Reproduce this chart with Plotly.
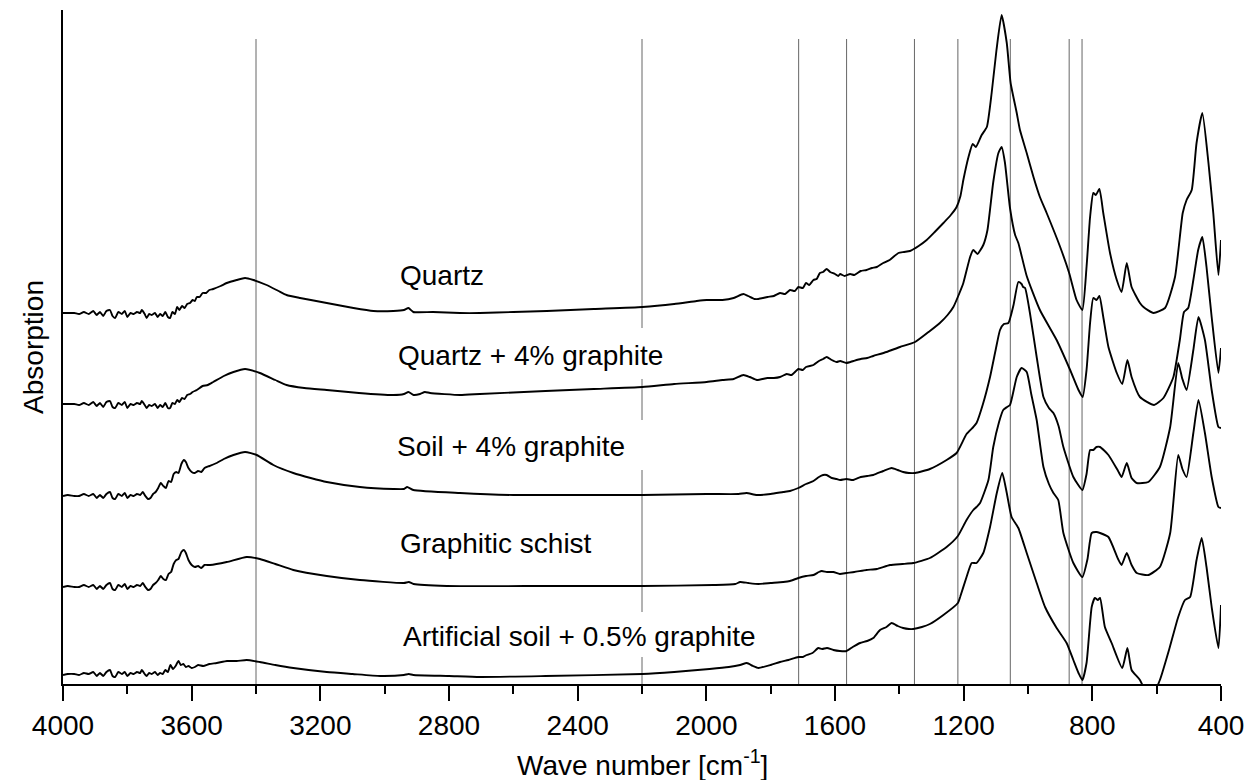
import plotly.graph_objects as go

# ---------------- data ----------------
# each series: [wave number cm-1, absorption (arbitrary, stacked)]
quartz = [(4000,3.71),(3990,3.71),(3965,3.71),(3950,3.70),(3935,3.72),(3920,3.70),(3906,3.73),(3895,3.69),(3885,3.72),
          (3875,3.68),(3865,3.73),(3854,3.74),(3846,3.68),(3838,3.66),(3828,3.72),(3817,3.70),(3808,3.73),(3800,3.67),
          (3790,3.71),(3780,3.70),(3770,3.72),(3760,3.71),(3755,3.74),(3746,3.70),(3740,3.66),(3732,3.70),(3724,3.69),
          (3714,3.71),(3706,3.67),(3698,3.70),(3690,3.68),(3682,3.72),(3674,3.67),(3667,3.66),(3660,3.72),(3652,3.70),
          (3645,3.77),(3638,3.74),(3630,3.78),(3622,3.76),(3614,3.80),(3605,3.81),(3597,3.84),(3590,3.83),(3584,3.87),
          (3575,3.87),(3566,3.91),(3555,3.91),(3545,3.94),(3533,3.95),(3510,3.98),(3491,4.01),(3460,4.04),(3434,4.06),
          (3408,4.04),(3367,3.99),(3330,3.93),(3305,3.89),(3263,3.86),(3180,3.81),(3097,3.76),(3035,3.73),(2973,3.73),
          (2940,3.74),(2926,3.76),(2911,3.72),(2850,3.72),(2766,3.71),(2704,3.71),(2600,3.72),(2496,3.73),(2350,3.75),
          (2199,3.77),(2100,3.80),(2030,3.83),(1999,3.84),(1950,3.84),(1915,3.86),(1885,3.90),(1870,3.88),(1850,3.85),
          (1838,3.85),(1810,3.87),(1790,3.88),(1771,3.91),(1755,3.90),(1740,3.94),(1725,3.93),(1714,3.97),(1700,3.96),
          (1690,4.01),(1680,3.99),(1667,4.04),(1657,4.05),(1647,4.11),(1637,4.12),(1626,4.15),(1615,4.12),(1600,4.10),
          (1590,4.08),(1584,4.10),(1570,4.08),(1553,4.10),(1540,4.09),(1520,4.13),(1502,4.14),(1485,4.16),(1470,4.17),
          (1450,4.21),(1430,4.24),(1403,4.31),(1385,4.32),(1367,4.33),(1340,4.38),(1315,4.44),(1290,4.52),(1263,4.61),
          (1240,4.69),(1222,4.77),(1210,4.88),(1201,5.04),(1185,5.27),(1172,5.40),(1162,5.37),(1144,5.49),(1128,5.57),
          (1113,5.91),(1098,6.34),(1082,6.69),(1066,6.41),(1054,6.01),(1035,5.71),(1025,5.54),(1004,5.31),(983,5.07),
          (963,4.87),(942,4.71),(900,4.37),(872,4.11),(849,3.84),(831,3.74),(818,4.17),(807,4.67),(797,4.91),
          (789,4.89),(778,4.95),(766,4.71),(745,4.31),(724,4.04),(709,3.92),(693,4.21),(678,3.97),(652,3.81),
          (641,3.77),(610,3.71),(574,3.76),(543,4.07),(519,4.71),(507,4.84),(491,4.94),(476,5.41),(458,5.71),
          (439,5.21),(424,4.71),(408,4.09),(400,4.44)]

quartz_graphite = [(4000,2.80),(3990,2.80),(3965,2.80),(3950,2.79),(3935,2.81),(3920,2.79),(3906,2.82),(3895,2.78),
          (3885,2.81),(3875,2.77),(3865,2.82),(3854,2.83),(3846,2.77),(3838,2.76),(3828,2.81),(3817,2.79),(3808,2.82),
          (3800,2.76),(3790,2.80),(3780,2.79),(3770,2.81),(3760,2.80),(3755,2.83),(3746,2.79),(3740,2.76),(3732,2.79),
          (3724,2.78),(3714,2.80),(3706,2.76),(3698,2.79),(3690,2.77),(3682,2.81),(3674,2.76),(3667,2.76),(3660,2.81),
          (3652,2.80),(3645,2.84),(3638,2.82),(3630,2.86),(3622,2.85),(3614,2.89),(3605,2.90),(3597,2.92),(3584,2.94),
          (3566,2.98),(3550,2.99),(3533,3.02),(3500,3.08),(3470,3.12),(3434,3.15),(3388,3.11),(3340,3.04),(3305,2.99),
          (3250,2.96),(3180,2.94),(3080,2.91),(2973,2.89),(2940,2.90),(2926,2.92),(2910,2.89),(2890,2.90),(2875,2.92),
          (2859,2.91),(2766,2.89),(2704,2.90),(2500,2.93),(2350,2.95),(2199,2.97),(2100,3.00),(1999,3.02),(1950,3.04),
          (1915,3.05),(1885,3.09),(1865,3.07),(1843,3.04),(1810,3.06),(1790,3.06),(1771,3.07),(1750,3.10),(1735,3.09),
          (1714,3.15),(1700,3.14),(1690,3.17),(1667,3.19),(1650,3.23),(1637,3.25),(1626,3.27),(1610,3.24),(1595,3.22),
          (1584,3.23),(1565,3.21),(1543,3.23),(1520,3.25),(1500,3.26),(1481,3.28),(1440,3.32),(1398,3.37),(1351,3.42),
          (1305,3.53),(1274,3.61),(1250,3.69),(1232,3.77),(1213,3.91),(1201,4.01),(1180,4.27),(1170,4.34),(1157,4.30),
          (1139,4.39),(1126,4.54),(1108,5.02),(1092,5.31),(1082,5.37),(1072,5.22),(1056,4.76),(1040,4.49),(1030,4.41),
          (1004,4.08),(963,3.74),(911,3.44),(869,3.14),(843,2.94),(830,2.87),(818,3.14),(807,3.61),(797,3.86),
          (787,3.84),(778,3.88),(766,3.67),(750,3.37),(724,3.11),(707,3.00),(691,3.24),(678,3.07),(652,2.87),
          (608,2.79),(579,2.86),(548,3.07),(528,3.44),(515,3.72),(502,3.76),(486,4.04),(471,4.34),(458,4.47),
          (445,4.17),(429,3.67),(408,3.11),(400,3.36)]

soil_graphite = [(4000,1.88),(3985,1.89),(3965,1.88),(3950,1.88),(3935,1.90),(3920,1.88),(3906,1.90),(3895,1.86),
          (3885,1.89),(3875,1.86),(3865,1.90),(3854,1.92),(3846,1.86),(3838,1.85),(3828,1.90),(3817,1.88),(3808,1.91),
          (3800,1.86),(3790,1.89),(3780,1.88),(3770,1.90),(3760,1.89),(3752,1.92),(3744,1.88),(3736,1.85),(3728,1.86),
          (3720,1.90),(3712,1.92),(3704,1.96),(3696,2.01),(3688,1.98),(3680,1.96),(3672,2.03),(3664,2.02),(3656,2.10),
          (3648,2.12),(3641,2.11),(3632,2.20),(3624,2.24),(3618,2.22),(3610,2.16),(3600,2.12),(3590,2.11),(3580,2.13),
          (3570,2.12),(3560,2.16),(3545,2.18),(3522,2.21),(3500,2.25),(3470,2.29),(3434,2.32),(3398,2.29),(3346,2.19),
          (3284,2.11),(3230,2.06),(3180,2.02),(3077,1.97),(2973,1.95),(2940,1.95),(2930,1.97),(2911,1.94),(2766,1.91),
          (2600,1.89),(2400,1.89),(2199,1.89),(1999,1.90),(1900,1.90),(1875,1.91),(1843,1.89),(1800,1.90),(1761,1.92),
          (1740,1.93),(1714,1.96),(1690,2.00),(1667,2.03),(1650,2.07),(1637,2.09),(1626,2.09),(1610,2.06),(1595,2.05),
          (1584,2.04),(1565,2.05),(1543,2.04),(1520,2.07),(1500,2.08),(1481,2.09),(1450,2.13),(1424,2.16),(1405,2.14),
          (1388,2.12),(1370,2.11),(1351,2.11),(1305,2.15),(1253,2.24),(1222,2.31),(1191,2.50),(1170,2.57),(1160,2.61),
          (1140,2.80),(1118,3.07),(1100,3.35),(1087,3.54),(1075,3.60),(1061,3.61),(1045,3.79),(1030,4.02),(1020,4.00),
          (1015,3.97),(1009,3.96),(994,3.71),(973,3.27),(952,2.87),(935,2.76),(921,2.71),(905,2.58),(890,2.37),
          (859,2.07),(831,1.94),(818,2.10),(807,2.34),(797,2.34),(787,2.37),(776,2.37),(750,2.29),(720,2.13),
          (709,2.07),(693,2.21),(678,2.06),(662,2.01),(626,2.02),(590,2.17),(558,2.57),(533,3.21),(520,3.05),
          (507,2.94),(486,3.34),(470,3.67),(450,3.44),(429,2.94),(408,2.57),(400,2.56)]

graphitic_schist = [(4000,0.97),(3985,0.98),(3965,0.97),(3950,0.97),(3935,0.99),(3920,0.97),(3906,0.99),(3895,0.95),
          (3885,0.98),(3875,0.95),(3865,0.99),(3854,1.01),(3846,0.95),(3838,0.94),(3828,0.99),(3817,0.97),(3808,1.00),
          (3800,0.95),(3790,0.98),(3780,0.97),(3770,0.99),(3760,0.98),(3752,1.01),(3744,0.97),(3736,0.94),(3728,0.95),
          (3720,0.99),(3712,1.01),(3704,1.04),(3696,1.08),(3688,1.05),(3680,1.04),(3672,1.10),(3664,1.12),(3656,1.20),
          (3648,1.24),(3641,1.25),(3632,1.32),(3624,1.34),(3618,1.31),(3610,1.24),(3600,1.19),(3590,1.17),(3580,1.18),
          (3570,1.16),(3560,1.19),(3543,1.19),(3491,1.22),(3429,1.27),(3388,1.25),(3340,1.20),(3284,1.14),(3180,1.08),
          (3077,1.04),(2940,1.01),(2925,1.02),(2910,1.00),(2807,0.98),(2496,0.98),(2199,0.98),(1978,0.99),(1910,1.00),
          (1895,1.02),(1870,1.01),(1838,1.00),(1800,1.01),(1761,1.02),(1740,1.03),(1714,1.06),(1690,1.08),(1667,1.09),
          (1650,1.12),(1641,1.13),(1625,1.12),(1605,1.12),(1585,1.10),(1564,1.11),(1540,1.12),(1502,1.14),(1470,1.15),
          (1429,1.19),(1390,1.20),(1357,1.21),(1305,1.26),(1253,1.37),(1218,1.48),(1191,1.64),(1170,1.74),(1160,1.77),
          (1149,1.81),(1123,2.04),(1108,2.37),(1090,2.62),(1077,2.74),(1065,2.77),(1056,2.79),(1035,3.07),(1020,3.16),
          (1004,3.12),(990,2.90),(973,2.64),(952,2.17),(935,2.00),(921,1.91),(906,1.84),(890,1.51),(859,1.21),
          (831,1.07),(815,1.25),(802,1.51),(787,1.52),(776,1.51),(750,1.47),(720,1.25),(709,1.19),(693,1.31),
          (678,1.19),(662,1.11),(626,1.09),(590,1.17),(558,1.51),(533,2.29),(520,2.15),(507,2.07),(486,2.51),
          (470,2.84),(450,2.51),(429,2.07),(408,1.77),(400,1.76)]

artificial_soil = [(4000,0.09),(3985,0.10),(3965,0.10),(3950,0.09),(3935,0.11),(3920,0.10),(3906,0.12),(3895,0.08),
          (3885,0.11),(3875,0.08),(3865,0.12),(3854,0.14),(3846,0.08),(3838,0.07),(3828,0.12),(3817,0.10),(3808,0.12),
          (3800,0.08),(3790,0.11),(3780,0.10),(3770,0.12),(3760,0.11),(3755,0.14),(3746,0.10),(3740,0.08),(3732,0.11),
          (3724,0.10),(3714,0.12),(3706,0.09),(3698,0.11),(3690,0.10),(3682,0.14),(3674,0.12),(3666,0.19),(3658,0.15),
          (3650,0.18),(3641,0.23),(3634,0.19),(3626,0.20),(3618,0.17),(3610,0.18),(3600,0.16),(3590,0.17),(3580,0.19),
          (3564,0.18),(3545,0.20),(3522,0.21),(3490,0.23),(3460,0.23),(3429,0.24),(3388,0.22),(3340,0.19),(3284,0.16),
          (3180,0.12),(3100,0.10),(3014,0.08),(2940,0.09),(2925,0.10),(2911,0.09),(2800,0.08),(2704,0.07),(2500,0.08),
          (2199,0.10),(2100,0.12),(1990,0.15),(1930,0.17),(1895,0.19),(1874,0.21),(1855,0.18),(1838,0.16),(1800,0.19),
          (1771,0.22),(1745,0.24),(1714,0.27),(1700,0.27),(1688,0.29),(1670,0.31),(1652,0.36),(1640,0.35),(1625,0.36),
          (1605,0.34),(1585,0.33),(1564,0.33),(1545,0.37),(1522,0.41),(1500,0.43),(1481,0.46),(1460,0.54),(1440,0.57),
          (1424,0.61),(1405,0.58),(1388,0.56),(1370,0.55),(1357,0.55),(1330,0.57),(1305,0.60),(1263,0.69),(1218,0.81),
          (1211,0.87),(1191,1.07),(1175,1.21),(1160,1.21),(1139,1.31),(1118,1.57),(1097,1.91),(1080,2.11),(1066,1.91),
          (1051,1.67),(1030,1.56),(1004,1.31),(973,1.01),(947,0.77),(911,0.56),(880,0.41),(859,0.24),(843,0.11),
          (831,0.04),(818,0.21),(802,0.77),(792,0.86),(783,0.84),(776,0.86),(761,0.57),(740,0.41),(707,0.16),
          (691,0.36),(678,0.14),(652,0.04),(620,-0.16),(590,0.04),(559,0.37),(533,0.67),(512,0.84),(496,0.87),
          (476,1.24),(460,1.46),(445,1.17),(429,0.77),(408,0.36),(400,0.79)]

series_names = ["Quartz", "Quartz + 4% graphite", "Soil + 4% graphite",
                "Graphitic schist", "Artificial soil + 0.5% graphite"]
series_data = [quartz, quartz_graphite, soil_graphite, graphitic_schist, artificial_soil]

# label anchors: wave number of text's left edge, absorption of text centre
label_wn = [2959, 2965, 2968, 2959, 2949]
label_abs = [4.09, 3.29, 2.38, 1.41, 0.48]

# reference band positions [cm-1]
band_wn = [3400, 1713, 1564, 1353, 1218, 1055, 872, 832]
band_top = 6.45
# the 2200 cm-1 line is interrupted behind the labels (absorption spans drawn)
line2200_segments = [(3.56, 6.45), (2.64, 3.05), (0.72, 2.14), (0.0, 0.27)]

x_ticks = [4000, 3600, 3200, 2800, 2400, 2000, 1600, 1200, 800, 400]

FONT = "Liberation Sans, Arial, sans-serif"

fig = go.Figure()
for name, pts in zip(series_names, series_data):
    wn = [p[0] for p in pts]
    ab = [p[1] for p in pts]
    fig.add_trace(go.Scatter(x=wn, y=ab, mode="lines", name=name,
                             line=dict(color="black", width=1.9, shape="spline", smoothing=0.5),
                             showlegend=False))

shapes = []
for w in band_wn:
    shapes.append(dict(type="line", xref="x", yref="y", x0=w, x1=w, y0=0, y1=band_top,
                       line=dict(color="#666666", width=1), layer="below"))
for y0, y1 in line2200_segments:
    shapes.append(dict(type="line", xref="x", yref="y", x0=2200, x1=2200, y0=y0, y1=y1,
                       line=dict(color="#666666", width=1), layer="below"))

annotations = []
for name, lx, ly in zip(series_names, label_wn, label_abs):
    annotations.append(dict(x=lx, y=ly, xref="x", yref="y", text=name, showarrow=False,
                            xanchor="left", yanchor="middle",
                            font=dict(family=FONT, size=28, color="black")))
annotations.append(dict(x=0.5, y=-0.117, xref="paper", yref="paper",
                        text="Wave number [cm<sup>-1</sup>]", showarrow=False,
                        xanchor="center", yanchor="middle",
                        font=dict(family=FONT, size=28, color="black")))
annotations.append(dict(x=-0.026, y=0.5, xref="paper", yref="paper", text="Absorption",
                        showarrow=False, textangle=-90, xanchor="center", yanchor="middle",
                        font=dict(family=FONT, size=28, color="black")))

fig.update_layout(
    width=1248, height=780,
    margin=dict(l=63, r=27, t=10, b=96),
    paper_bgcolor="white", plot_bgcolor="white",
    font=dict(family=FONT, size=28, color="black"),
    shapes=shapes, annotations=annotations,
    xaxis=dict(range=[4000, 400], tickvals=x_ticks, ticktext=[str(t) for t in x_ticks],
               ticks="outside", ticklen=15, tickwidth=2, tickcolor="black",
               minor=dict(dtick=200, tick0=0, ticks="outside", ticklen=8, tickwidth=2, tickcolor="black"),
               showline=True, linewidth=2, linecolor="black", showgrid=False, zeroline=False,
               automargin=False,
               tickfont=dict(family=FONT, size=28, color="black")),
    yaxis=dict(range=[0, 6.74], showticklabels=False, ticks="", showline=True, linewidth=2,
               linecolor="black", showgrid=False, zeroline=False, automargin=False),
)

fig.write_html("out.html")
